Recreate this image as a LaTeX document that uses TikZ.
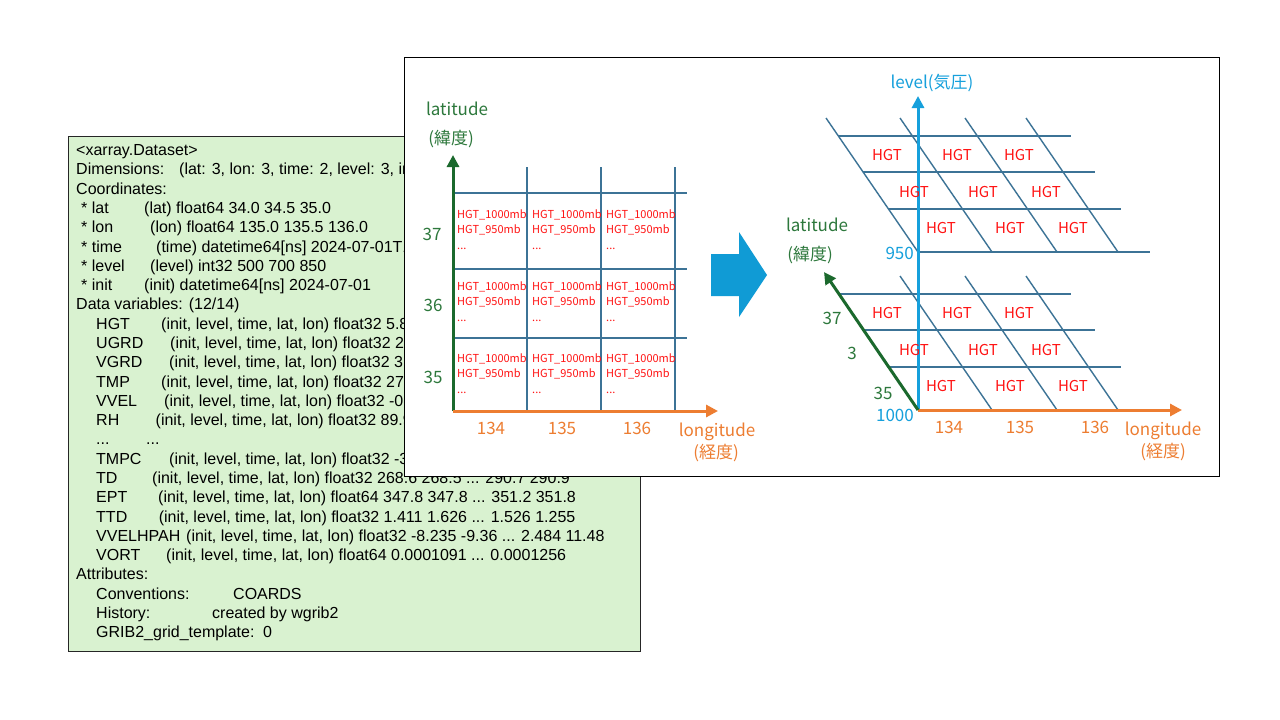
\documentclass[tikz,border=0pt]{standalone}
\usepackage{fontspec}
\setmainfont{Liberation Sans}
\newfontfamily\jpfont{Noto Sans CJK JP}
\usetikzlibrary{arrows.meta}
\definecolor{boxgreen}{RGB}{217,242,208}
\definecolor{axgreen}{RGB}{27,105,45}
\definecolor{txgreen}{RGB}{45,120,60}
\definecolor{axorange}{RGB}{237,125,49}
\definecolor{axblue}{RGB}{22,160,220}
\definecolor{gridblue}{RGB}{60,115,150}
\definecolor{arrowblue}{RGB}{16,155,213}
\definecolor{hgtred}{RGB}{255,20,20}
\tikzset{
  gtext/.style={anchor=base west, inner sep=0pt, font=\fontsize{16}{19}\selectfont},
  lab/.style={inner sep=0pt, font=\jpfont\fontsize{17}{20}\selectfont},
  cell/.style={anchor=base west, inner sep=0pt, text=hgtred, font=\jpfont\fontsize{11}{13}\selectfont},
  hgt/.style={inner sep=0pt, text=hgtred, font=\jpfont\fontsize{15}{18}\selectfont},
  gridl/.style={draw=gridblue, line width=1.4pt},
  axisline/.style={line width=3pt, -{Triangle[length=12pt,width=12pt]}},
}
\newcommand\gtl[4]{\node[gtext] (#1) at (#2,{155.7+19.28*#3}) {#4};}
\begin{document}
\begin{tikzpicture}[x=1pt,y=-1pt]
\useasboundingbox[fill=white] (0,0) rectangle (1280,720);
% ---------- green text box ----------
\draw[fill=boxgreen, draw=black!85, line width=1pt] (68,136) rectangle (640,651);
\gtl{g0}{76}{0}{<xarray.Dataset>}
\gtl{g1}{76}{1}{Dimensions:}\gtl{g1b}{179}{1}{(lat: 3, lon: 3, time: 2, level: 3, init: 1)}
\gtl{g2}{76}{2}{Coordinates:}
\gtl{g3}{81}{3}{* lat}\gtl{g3b}{144}{3}{(lat) float64 34.0 34.5 35.0}
\gtl{g4}{81}{4}{* lon}\gtl{g4b}{150}{4}{(lon) float64 135.0 135.5 136.0}
\gtl{g5}{81}{5}{* time}\gtl{g5b}{156}{5}{(time) datetime64[ns] 2024-07-01T12}
\gtl{g6}{81}{6}{* level}\gtl{g6b}{150}{6}{(level) int32 500 700 850}
\gtl{g7}{81}{7}{* init}\gtl{g7b}{144}{7}{(init) datetime64[ns] 2024-07-01}
\gtl{g8}{76}{8}{Data variables: (12/14)}
\gtl{g9}{96}{9}{HGT}\gtl{g9b}{161}{9}{(init, level, time, lat, lon) float32 5.8}
\gtl{g10}{96}{10}{UGRD}\gtl{g10b}{170}{10}{(init, level, time, lat, lon) float32 2.}
\gtl{g11}{96}{11}{VGRD}\gtl{g11b}{169}{11}{(init, level, time, lat, lon) float32 3.}
\gtl{g12}{96}{12}{TMP}\gtl{g12b}{161}{12}{(init, level, time, lat, lon) float32 270}
\gtl{g13}{96}{13}{VVEL}\gtl{g13b}{164}{13}{(init, level, time, lat, lon) float32 -0.}
\gtl{g14}{96}{14}{RH}\gtl{g14b}{155.5}{14}{(init, level, time, lat, lon) float32 89.9}
\gtl{g15}{96}{15}{...}\gtl{g15b}{146}{15}{...}
\gtl{g16}{96}{16}{TMPC}\gtl{g16b}{169}{16}{(init, level, time, lat, lon) float32 -3.}
\gtl{g17}{96}{17}{TD}\gtl{g17b}{152}{17}{(init, level, time, lat, lon) float32 268.6 268.5 ... 290.7 290.9}
\gtl{g18}{96}{18}{EPT}\gtl{g18b}{158}{18}{(init, level, time, lat, lon) float64 347.8 347.8 ... 351.2 351.8}
\gtl{g19}{96}{19}{TTD}\gtl{g19b}{158.6}{19}{(init, level, time, lat, lon) float32 1.411 1.626 ... 1.526 1.255}
\gtl{g20}{96}{20}{VVELHPAH}\gtl{g20b}{186}{20}{(init, level, time, lat, lon) float32 -8.235 -9.36 ... 2.484 11.48}
\gtl{g21}{96}{21}{VORT}\gtl{g21b}{166}{21}{(init, level, time, lat, lon) float64 0.0001091 ... 0.0001256}
\gtl{g22}{76}{22}{Attributes:}
\gtl{g23}{96}{23}{Conventions:}\gtl{g23b}{233}{23}{COARDS}
\gtl{g24}{96}{24}{History:}\gtl{g24b}{212}{24}{created by wgrib2}
\gtl{g25}{96}{25}{GRIB2\_grid\_template:}\gtl{g25b}{263}{25}{0}
% ---------- white panel ----------
\draw[fill=white, draw=black, line width=1pt] (404,57) rectangle (1219,476);
% ---------- left grid ----------
\foreach \x in {527,601,675} \draw[gridl] (\x,167) -- (\x,411);
\foreach \y in {193,269,338} \draw[gridl] (455,\y) -- (687,\y);
\coordinate (LO) at (453,411);
\coordinate (LY) at (453,155);
\coordinate (LX) at (718,411);
\draw[axisline, axgreen] (LO) -- (LY);
\draw[axisline, axorange] (LO) -- (LX);
\foreach \r/\yy in {0/218,1/290,2/362}{
  \foreach \c/\xx in {0/457,1/532,2/606}{
    \node[cell] (ca\r\c) at (\xx,\yy) {HGT\_1000mb};
    \node[cell] (cb\r\c) at (\xx,\yy+15.5) {HGT\_950mb};
    \node[cell] (cd\r\c) at (\xx,\yy+31) {...};
  }
}
\node[lab, text=txgreen] (latL) at (457,109) {latitude};
\node[lab, text=txgreen] (latLj) at (451,139) {(緯度)};
\node[lab, text=txgreen] (l37) at (432,234) {37};
\node[lab, text=txgreen] (l36) at (433,305) {36};
\node[lab, text=txgreen] (l35) at (433,377) {35};
\node[lab, text=axorange] (l134) at (491,428) {134};
\node[lab, text=axorange] (l135) at (562,428) {135};
\node[lab, text=axorange] (l136) at (637,428) {136};
\node[lab, text=axorange] (lonL) at (717,432) {longitude};
\node[lab, text=axorange] (lonLj) at (716,453) {(経度)};
% ---------- block arrow ----------
\fill[arrowblue] (711,254) -- (739,254) -- (739,232) -- (767,275) -- (739,317) -- (739,296) -- (711,296) -- cycle;
% ---------- right 3D grid ----------
\foreach \B in {252,410}{
  \draw[gridl] (838,\B-116) -- (1071,\B-116);
  \draw[gridl] (863,\B-80) -- (1095,\B-80);
  \draw[gridl] (889,\B-43) -- (1121,\B-43);
  \foreach \xb in {992,1057,1118} \draw[gridl] (\xb,\B) -- (\xb-92,\B-134);
}
\draw[gridl] (918,252) -- (1150,252);
\draw[gridl] (918,252) -- (826,118);
\coordinate (RO) at (918,410);
\coordinate (RZ) at (918,96);
\coordinate (RX) at (1182,410);
\coordinate (RY) at (824,272);
\draw[axisline, axblue] (RO) -- (RZ);
\draw[axisline, axorange] (RO) -- (RX);
\draw[axisline, axgreen] (RO) -- (RY);
\foreach \B/\L in {252/u,410/d}{
  \foreach \dy/\xa/\xb/\xc/\r in {97/887/957/1019/1, 60/914/983/1046/2, 24/941/1010/1073/3}{
    \node[hgt] (h\L\r a) at (\xa,\B-\dy) {HGT};
    \node[hgt] (h\L\r b) at (\xb,\B-\dy) {HGT};
    \node[hgt] (h\L\r c) at (\xc,\B-\dy) {HGT};
  }
}
\node[lab, text=axblue] (levR) at (932,83) {level(気圧)};
\node[lab, text=txgreen] (latR) at (817,225) {latitude};
\node[lab, text=txgreen] (latRj) at (810,255) {(緯度)};
\node[lab, text=axblue, anchor=east] (r950) at (914,253) {950};
\node[lab, text=axblue, anchor=east] (r1000) at (914,415) {1000};
\node[lab, text=txgreen] (r37) at (832,318) {37};
\node[lab, text=txgreen] (r3) at (852,353) {3};
\node[lab, text=txgreen] (r35) at (883,393) {35};
\node[lab, text=axorange] (r134) at (949,427) {134};
\node[lab, text=axorange] (r135) at (1020,427) {135};
\node[lab, text=axorange] (r136) at (1095,427) {136};
\node[lab, text=axorange] (lonR) at (1163,431) {longitude};
\node[lab, text=axorange] (lonRj) at (1163,452) {(経度)};
\end{tikzpicture}
\end{document}
